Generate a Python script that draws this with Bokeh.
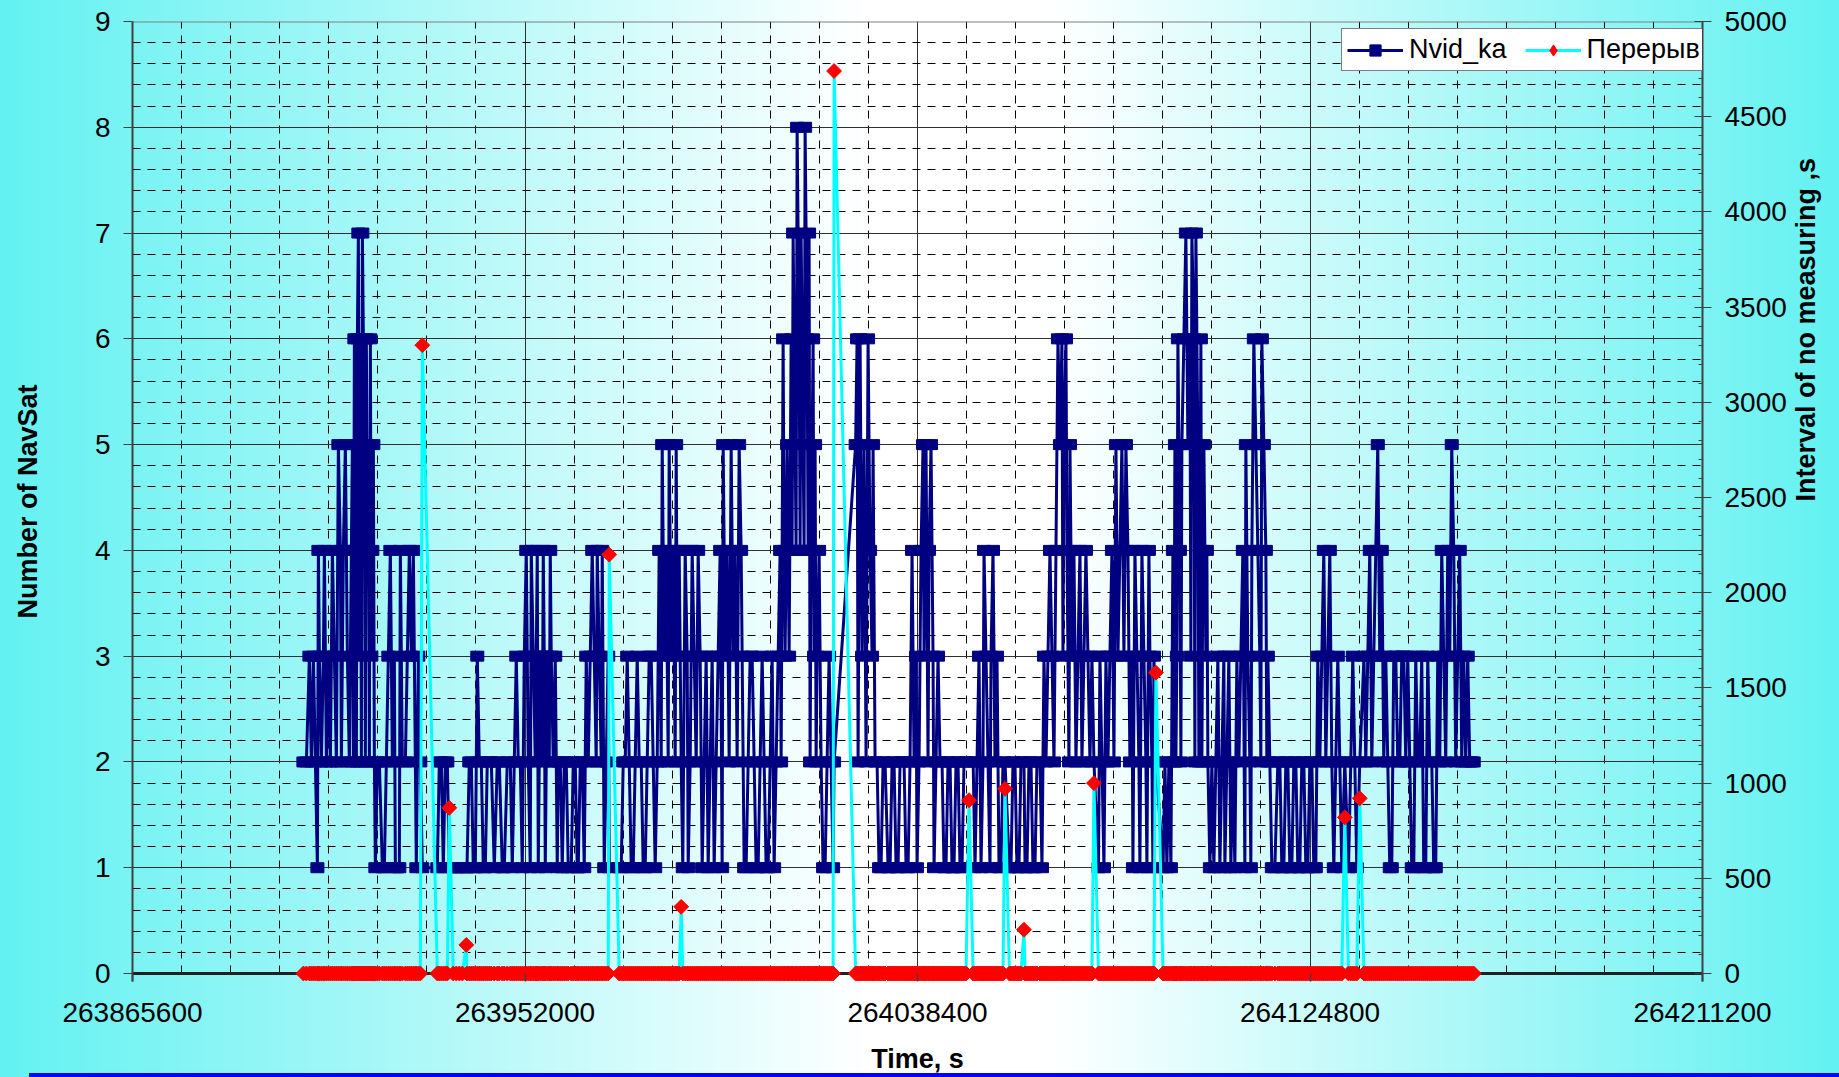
import numpy as np
from bokeh.plotting import figure
from bokeh.models import (Range1d, LinearAxis, SingleIntervalTicker, BasicTickFormatter,
                          ColumnDataSource, Legend, LegendItem, Span)
from bokeh.embed import file_html
from bokeh.resources import INLINE

# ---------------- data ----------------
T0 = 263865600          # start of the time axis, s
T1 = 264211200          # end of the time axis, s

# measurement times (s after T0) and number of visible navigation satellites, pass by pass
t_a = [37620, 38280, 38940, 39380, 39820, 40260, 40700, 40920, 41140, 41580,
       42020, 42240, 42680, 43120, 43560, 44000, 44440, 44880, 45320, 45760,
       45980, 46420, 46860, 47300, 47740, 48180, 48400, 48620, 48840, 49060,
       49280, 49500, 49720, 49940, 50160, 50380, 50600, 50820, 51040, 51260,
       51480, 51700, 51920, 52140, 52360, 52580, 52800, 53020, 53240, 53460,
       53900, 54340, 55000, 55440, 55880, 56320, 56760, 57200, 57640, 57860,
       58300, 58740, 58960, 59400, 60060, 60500, 60940, 61380, 61820, 62260,
       62480, 62920, 63360, 63800]
n_a = [2, 2, 3, 2, 3, 2, 1, 4, 3, 2,
       3, 4, 2, 3, 2, 4, 3, 2, 5, 4,
       2, 4, 5, 3, 2, 4, 5, 2, 6, 4,
       2, 6, 7, 3, 6, 2, 7, 6, 5, 2,
       6, 4, 5, 2, 6, 3, 4, 5, 2, 1,
       2, 2, 1, 1, 2, 3, 4, 2, 3, 1,
       1, 1, 4, 2, 2, 3, 4, 3, 4, 2,
       1, 3, 2, 1]

t_b = [67100, 67540, 67980, 68420, 68860, 69300, 69740, 70610, 71280, 71940,
       72600, 73480, 73630, 74140, 74580, 75020, 75460, 75900, 76340, 76780,
       77220, 77660, 78100, 78540, 78980, 79640, 80300, 80740, 81400, 81840,
       82500, 83160, 83600, 84040, 84480, 84920, 85360, 85800, 86240, 86680,
       87120, 87560, 87780, 88220, 88660, 88880, 89100, 89320, 89760, 90200,
       90420, 90640, 90860, 91300, 91740, 91960, 92180, 92620, 93060, 93500,
       93720, 94160, 94600, 95040, 95480, 95920, 96580, 97020, 97460, 97900,
       98120, 98560, 99000, 99440, 99880, 100320, 100760, 101200, 101640, 102080,
       102300, 102740, 103180, 103400, 103840, 104280, 104720, 104940]
n_b = [1, 2, 2, 1, 2, 2, 1, 1, 1, 1,
       1, 1, 1, 2, 2, 1, 1, 3, 2, 2,
       1, 1, 2, 2, 2, 1, 2, 2, 1, 1,
       2, 2, 1, 2, 3, 2, 2, 1, 3, 4,
       2, 1, 4, 3, 2, 3, 4, 1, 3, 2,
       4, 3, 1, 3, 2, 4, 3, 2, 3, 1,
       2, 2, 1, 2, 2, 1, 1, 2, 2, 1,
       1, 2, 2, 1, 3, 2, 3, 4, 3, 2,
       4, 3, 2, 4, 1, 2, 3, 1]

t_c = [107140, 107580, 108020, 108460, 108900, 109340, 109780, 110220, 110660, 111100,
       111540, 111980, 112420, 112860, 113300, 113740, 114180, 114620, 115060, 115500,
       115940, 116380, 116600, 117040, 117480, 117920, 118140, 118580, 119020, 119460,
       119680, 119900, 120340, 120780, 121130, 121660, 122100, 122320, 122760, 123200,
       123640, 124080, 124520, 124960, 125400, 125840, 126280, 126720, 127160, 127600,
       128040, 128480, 128920, 129360, 129800, 130020, 130460, 130900, 131340, 131780,
       132220, 132660, 133100, 133540, 133980, 134200, 134640, 135080, 135520, 135960,
       136400, 136840, 137280, 137720, 138160, 138600, 139040, 139480, 139920, 140360,
       140800, 141240, 141680, 142120, 142560, 142780, 143220, 143440, 143660, 144100,
       144320, 144540, 144980, 145200, 145420, 145860, 146080, 146300, 146740, 146960,
       147180, 147620, 147840, 148060, 148500, 148720, 148940, 149160, 149380, 149820,
       150040, 150260, 150480, 150700, 151140, 151580, 152020, 152460, 152900, 153340,
       153780, 154220, 154440]
n_c = [1, 1, 2, 2, 3, 2, 1, 1, 2, 3,
       2, 2, 1, 1, 2, 3, 3, 2, 1, 2,
       4, 2, 5, 3, 4, 2, 5, 3, 4, 2,
       5, 3, 4, 2, 1, 4, 3, 1, 2, 4,
       3, 2, 4, 3, 1, 2, 3, 1, 2, 3,
       1, 2, 3, 4, 1, 5, 3, 4, 2, 5,
       3, 4, 2, 5, 4, 3, 1, 1, 2, 3,
       3, 2, 1, 1, 2, 3, 2, 1, 1, 2,
       3, 1, 2, 3, 4, 2, 6, 4, 3, 5,
       4, 3, 6, 4, 7, 5, 4, 8, 6, 4,
       7, 5, 4, 8, 6, 4, 7, 2, 4, 6,
       3, 5, 2, 3, 4, 2, 1, 1, 2, 3,
       2, 1, 2]

t_d = [159180, 159500, 159720, 160160, 160600, 161040, 161480, 161920, 162360, 162800,
       163020, 163460, 163900, 164340, 164780, 165220, 165660, 166320, 166760, 167200,
       167640, 168080, 168520, 168960, 169400, 169840, 170280, 170720, 171160, 171600,
       172040, 172480, 172700, 173140, 173580, 174020, 174240, 174680, 175120, 175340,
       175780, 176220, 176440, 176880, 177320, 177760, 178200, 178640, 179080, 179520,
       179960, 180400, 180840, 181280, 181720, 182160, 182600, 183040, 183480, 184140]
n_d = [5, 6, 2, 6, 3, 5, 2, 6, 4, 3,
       5, 2, 2, 1, 1, 2, 2, 1, 1, 2,
       2, 1, 1, 2, 2, 2, 1, 1, 2, 4,
       2, 3, 1, 2, 4, 5, 3, 5, 2, 4,
       5, 3, 1, 2, 3, 2, 2, 1, 1, 2,
       2, 1, 1, 2, 2, 1, 1, 2, 2, 2]

t_e = [185050, 185460, 185900, 186340, 186780, 187220, 187440, 187880, 188320, 188760,
       188980, 189420, 189860, 190300, 190740, 191180, 191620, 192060, 193030, 193380,
       193820, 194260, 194700, 195140, 195580, 196240, 196470, 196900, 197340, 197780,
       198220, 198660, 199100, 199760, 200200, 200640, 201080, 201520, 201960, 202400,
       202840, 203280, 203720, 204160, 204600, 204820, 205040, 205480, 205700, 206140,
       206360, 206800, 207240, 207680, 208120, 208560, 209000, 209440, 209880, 210320,
       210760, 211200, 211640]
n_e = [2, 1, 2, 3, 1, 2, 4, 3, 2, 1,
       3, 4, 2, 3, 1, 1, 2, 2, 1, 1,
       2, 2, 1, 1, 2, 2, 1, 1, 2, 2,
       1, 1, 2, 2, 1, 3, 2, 3, 4, 3,
       2, 4, 6, 5, 6, 3, 5, 6, 4, 2,
       5, 3, 4, 2, 3, 4, 2, 3, 4, 3,
       2, 3, 2]

t_f = [212640, 212960, 213400, 213840, 214280, 214720, 215160, 215600, 216040, 216480,
       216920, 217360, 217800, 218240, 218680, 219120, 219560, 220000, 220220, 220660,
       221100, 221540, 221760, 222200, 222640, 223080, 223300, 223740, 223960, 224400,
       224620, 224840, 225280]
n_f = [1, 3, 2, 1, 3, 2, 3, 4, 2, 5,
       3, 4, 5, 3, 5, 4, 2, 3, 1, 4,
       3, 2, 1, 4, 3, 2, 1, 4, 3, 2,
       1, 3, 2]

t_g = [226860, 227260, 227700, 228140, 228580, 229020, 229240, 229460, 229680, 229900,
       230120, 230560, 230780, 231000, 231440, 231880, 232320, 232760, 232980, 233200,
       233640, 233860, 234080, 234520, 234740, 235180, 235400, 235620, 235840, 236280,
       236500, 236720, 237160, 237600, 238040, 238480, 238920, 239360, 239800, 240240,
       240460, 240900, 241340, 241780, 242220, 242660, 243100, 243540, 243980, 244420,
       244860, 245080, 245520, 245960, 246180, 246400, 246840, 247280, 247720, 248160,
       248380, 248600, 249040, 249480, 249700, 249920, 250360, 250800, 251460, 252120,
       252560, 253000, 253440, 253880, 254320, 254760, 255200, 255640, 256080, 256520,
       256960]
n_g = [1, 2, 1, 2, 1, 4, 2, 5, 2, 3,
       6, 4, 2, 5, 6, 7, 5, 6, 3, 7,
       6, 2, 7, 5, 2, 6, 2, 4, 5, 3,
       4, 2, 1, 2, 1, 2, 3, 1, 2, 3,
       1, 2, 3, 1, 2, 1, 3, 2, 3, 4,
       1, 5, 3, 2, 1, 4, 6, 5, 4, 3,
       2, 6, 5, 4, 2, 3, 2, 1, 1, 2,
       2, 1, 1, 2, 2, 1, 1, 2, 2, 1,
       1]

t_h = [257400, 257840, 258280, 258720, 259160, 259600, 260040, 260480, 260920, 261360,
       261800, 262240, 262680, 263120, 263560, 264000, 264440, 264880, 265320, 265760,
       266200, 266860, 267680, 268180, 268620, 269060, 269500, 270160, 271080, 271480,
       271920, 272360, 272800, 273240, 273680, 274120, 274560, 275000, 275440, 275880,
       276320, 276760, 277200, 277640, 278080, 278520, 278960, 279400, 279840, 280280,
       280720, 281160, 281600, 282040, 282480, 282920, 283360, 283800, 284240, 284680,
       285120, 285560, 286000, 286440, 286880, 287320, 287760, 288200, 288640, 289080,
       289520, 289960, 290400, 290840, 291280, 291720, 292160, 292600, 293040, 293480,
       293920, 294360, 294800, 295240]
n_h = [2, 2, 1, 1, 2, 2, 1, 1, 3, 2,
       3, 4, 2, 3, 4, 2, 1, 2, 3, 2,
       1, 2, 1, 2, 3, 2, 1, 2, 3, 2,
       3, 4, 2, 3, 4, 5, 3, 4, 2, 3,
       2, 1, 1, 3, 3, 2, 2, 3, 3, 2,
       3, 2, 1, 1, 3, 2, 2, 3, 1, 1,
       3, 2, 2, 1, 1, 3, 2, 4, 3, 2,
       4, 3, 5, 4, 2, 3, 4, 2, 3, 2,
       3, 2, 2, 2]

# interruptions of measuring ("Перерыв"): time (s after T0) and length, s
pause_t = [63800, 69740, 73480, 104940, 120780, 154440, 184140, 192060, 196240,
           211640, 225280, 266860, 270160]
pause_s = [3300, 870, 150, 2200, 350, 4740, 910, 970, 230,
           1000, 1580, 820, 920]

# ---------------- assemble ----------------
passes = [(t_a, n_a), (t_b, n_b), (t_c, n_c), (t_d, n_d),
          (t_e, n_e), (t_f, n_f), (t_g, n_g), (t_h, n_h)]
t_off, n_sat = [], []
for tt, nn in passes:
    assert len(tt) == len(nn), (len(tt), len(nn))
    t_off += tt
    n_sat += nn
assert all(b > a for a, b in zip(t_off, t_off[1:]))
pause_lookup = dict(zip(pause_t, pause_s))
gap = [pause_lookup.get(t, 0) for t in t_off]
time = [T0 + t for t in t_off]
src = ColumnDataSource(dict(time=time, nsat=n_sat, gap=gap))

# ---------------- figure ----------------
FONT = "Liberation Sans"
W, H = 1839, 1077
PLOT_H = 952            # pixels from value 0 to the top of the frame
BELOW = 8               # frame continues a little below value 0 so markers at 0 are whole
y_lo = -BELOW * 9 / PLOT_H
g_lo = -BELOW * 5000 / PLOT_H

p = figure(width=W, height=H, output_backend="svg", toolbar_location=None,
           x_range=Range1d(T0, T1), y_range=Range1d(y_lo, 9),
           min_border_left=132, min_border_right=137, min_border_top=21, min_border_bottom=96,
           background_fill_color=None, border_fill_color=None, outline_line_color=None)
p.extra_y_ranges = {"gap": Range1d(g_lo, 5000)}
p.styles = {
    "background": "linear-gradient(#0000ff, #0000ff) 29px 100% / calc(100% - 29px) 4px no-repeat, "
                  "linear-gradient(to right, #63f1f1 0%, #ffffff 47.3%, #ffffff 57%, #63f1f1 100%)"
}

xt = SingleIntervalTicker(interval=86400, num_minor_ticks=8)
yt = SingleIntervalTicker(interval=1, num_minor_ticks=5)
xa = p.xaxis[0]
ya = p.yaxis[0]
xa.ticker = xt
ya.ticker = yt
p.xgrid[0].ticker = xt
p.ygrid[0].ticker = yt
xa.formatter = BasicTickFormatter(use_scientific=False)

TITLE = dict(axis_label_text_font=FONT, axis_label_text_font_style="bold",
             axis_label_text_font_size="27px", axis_label_text_color="black")

for ax in (xa, ya):
    ax.major_label_text_font = FONT
    ax.major_label_text_font_size = "28px"
    ax.major_label_text_color = "black"
    ax.minor_tick_out = 0
    ax.minor_tick_in = 0
    ax.major_tick_line_color = "#404040"
    ax.axis_line_color = "#404040"
    ax.axis_line_width = 2
    for k, v in TITLE.items():
        setattr(ax, k, v)
ya.major_tick_out = 9
ya.major_tick_in = 0
ya.major_label_standoff = 13
ya.axis_label = "Number of NavSat"
ya.axis_label_standoff = 49

xa.axis_line_color = None
xa.major_tick_out = 0
xa.major_tick_in = BELOW
xa.major_tick_line_width = 1.5
xa.major_label_standoff = 21
xa.axis_label = "Time, s"
xa.axis_label_standoff = 19

ra = LinearAxis(y_range_name="gap", ticker=SingleIntervalTicker(interval=500, num_minor_ticks=5))
ra.major_label_text_font = FONT
ra.major_label_text_font_size = "28px"
ra.major_label_text_color = "black"
ra.major_tick_out = 9
ra.major_tick_in = 8
ra.minor_tick_out = 0
ra.minor_tick_in = 4
ra.major_tick_line_color = "#404040"
ra.minor_tick_line_color = "#404040"
ra.axis_line_color = "#404040"
ra.axis_line_width = 2
ra.major_label_standoff = 13
ra.axis_label = "Interval of no measuring ,s"
ra.axis_label_standoff = 16
for k, v in TITLE.items():
    setattr(ra, k, v)
if "axis_label_orientation" in ra.properties():
    ra.axis_label_orientation = np.pi / 2
p.add_layout(ra, "right")

for g in (p.xgrid[0], p.ygrid[0]):
    g.grid_line_color = "#303030"
    g.grid_line_width = 1
    g.minor_grid_line_color = "#000000"
    g.minor_grid_line_width = 1
    g.minor_grid_line_dash = "8 7"
if "cross_bounds" in p.xgrid[0].properties():
    p.xgrid[0].cross_bounds = (0, 9)

# axis line at value 0 and the top border of the plot area
p.add_layout(Span(location=0, dimension="width", line_color="#202020", line_width=3, level="underlay"))
p.add_layout(Span(location=9, dimension="width", line_color="#808080", line_width=2, level="underlay"))

# series 1: number of satellites
line_n = p.line("time", "nsat", source=src, line_color="#000080", line_width=3)
p.rect("time", "nsat", width=13, height=10, width_units="screen", height_units="screen",
       source=src, fill_color="#000080", line_color="#000080", line_width=1)

# series 2: interruption length (right axis)
line_g = p.line("time", "gap", source=src, y_range_name="gap", line_color="#00ffff", line_width=3)
p.scatter("time", "gap", source=src, y_range_name="gap", marker="square", angle=np.pi / 4,
          size=10.5, fill_color="#ff0000", line_color="#ff0000")

# legend-only marker glyphs (NaN position: nothing is drawn in the plot area)
prox_n = p.scatter(x=[np.nan], y=[np.nan], marker="square", size=9,
                   fill_color="#000080", line_color="#000080")
prox_g = p.scatter(x=[np.nan], y=[np.nan], marker="diamond", size=16,
                   fill_color="#ff0000", line_color="#ff0000")

legend = Legend(items=[LegendItem(label="Nvid_ka", renderers=[line_n, prox_n]),
                       LegendItem(label="Перерыв", renderers=[line_g, prox_g])],
                orientation="horizontal", location=(1209, 910), margin=0,
                glyph_width=56, glyph_height=28, label_standoff=6, spacing=18, padding=5,
                label_text_font=FONT, label_text_font_size="27px", label_text_color="black",
                border_line_color="#000000", border_line_width=1,
                background_fill_color="#ffffff", background_fill_alpha=1.0)
p.add_layout(legend)

open("out.html", "w").write(file_html(p, INLINE))
